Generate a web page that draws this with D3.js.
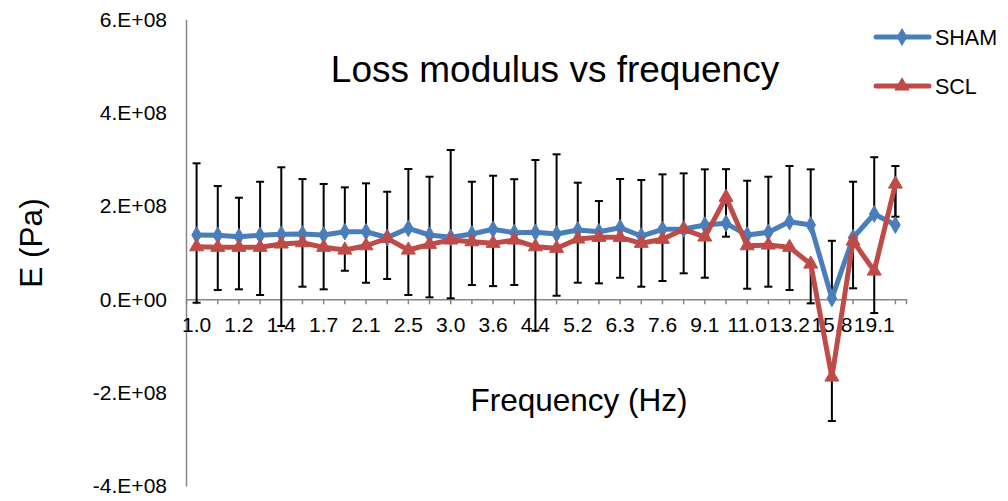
<!DOCTYPE html>
<html>
<head>
<meta charset="utf-8">
<script src="https://cdn.jsdelivr.net/npm/d3@7"></script>
<style>
  html, body { margin: 0; padding: 0; background: #ffffff; }
  svg { display: block; font-family: "Liberation Sans", Arial, sans-serif; }
</style>
</head>
<body>
<svg id="chart" width="1008" height="501"></svg>
<script>
// Frequency sweep categories (Hz); every other one is labelled on the axis
const frequencies = ["1.0","1.1","1.2","1.3","1.4","1.6","1.7","1.9","2.1","2.3",
  "2.5","2.8","3.0","3.3","3.6","4.0","4.4","4.8","5.2","5.8",
  "6.3","6.9","7.6","8.3","9.1","10.0","11.0","12.0","13.2","14.5",
  "15.8","17.4","19.1","20.9"];

// Loss modulus, SHAM group (Pa)
const shamValues = [1.378e8,1.371e8,1.341e8,1.371e8,1.393e8,1.399e8,1.378e8,1.448e8,1.448e8,1.324e8,
  1.521e8,1.378e8,1.328e8,1.399e8,1.500e8,1.427e8,1.436e8,1.399e8,1.485e8,1.448e8,
  1.534e8,1.356e8,1.500e8,1.506e8,1.592e8,1.628e8,1.378e8,1.436e8,1.663e8,1.592e8,
  0.020e8,1.320e8,1.828e8,1.592e8];
// SHAM error (shown in the plus direction)
const shamError = [1.536e8,1.056e8,0.836e8,1.148e8,1.436e8,1.178e8,1.093e8,0.951e8,1.037e8,0.981e8,
  1.271e8,1.249e8,1.871e8,1.121e8,1.148e8,1.147e8,1.549e8,1.708e8,1.014e8,0.658e8,
  1.044e8,1.200e8,1.178e8,1.193e8,1.193e8,1.161e8,1.163e8,1.191e8,1.193e8,1.193e8,
  1.234e8,1.200e8,1.217e8,1.264e8];

// Loss modulus, SCL group (Pa)
const sclValues = [1.127e8,1.114e8,1.114e8,1.114e8,1.185e8,1.213e8,1.114e8,1.056e8,1.148e8,1.307e8,
  1.056e8,1.178e8,1.271e8,1.234e8,1.200e8,1.271e8,1.127e8,1.093e8,1.292e8,1.328e8,
  1.328e8,1.200e8,1.286e8,1.500e8,1.335e8,2.186e8,1.148e8,1.163e8,1.114e8,0.756e8,
  -1.665e8,1.249e8,0.606e8,2.470e8];
// SCL error (shown in the minus direction)
const sclError = [1.200e8,0.915e8,0.900e8,1.022e8,1.757e8,0.943e8,0.900e8,0.444e8,0.793e8,0.872e8,
  0.964e8,1.136e8,1.249e8,0.928e8,0.917e8,0.964e8,1.800e8,1.016e8,0.936e8,0.986e8,
  0.866e8,0.930e8,0.893e8,0.943e8,0.872e8,0.844e8,0.921e8,0.893e8,0.914e8,0.842e8,
  0.943e8,1.013e8,0.900e8,0.700e8];

const yTicks = [-4e8,-2e8,0,2e8,4e8,6e8];
const yTickLabels = ["-4.E+08","-2.E+08","0.E+00","2.E+08","4.E+08","6.E+08"];

const seriesNames = ["SHAM","SCL"];
const colors = { SHAM: "#4A7EBB", SCL: "#BE4B48" };

const svg = d3.select("#chart");

const plot = { left: 186, right: 906, top: 19.3, bottom: 486 };

const x = d3.scaleBand()
  .domain(frequencies.map((d, i) => i))
  .range([plot.left, plot.right])
  .paddingInner(0).paddingOuter(0);
const cx = i => x(i) + x.bandwidth() / 2;

const y = d3.scaleLinear()
  .domain([-4e8, 6e8])
  .range([plot.bottom, plot.top]);

// Y axis (left)
const yAxis = d3.axisLeft(y)
  .tickValues(yTicks)
  .tickFormat((d, i) => yTickLabels[i])
  .tickSize(0)
  .tickPadding(19);
const gy = svg.append("g")
  .attr("transform", `translate(${plot.left},0)`)
  .call(yAxis);
gy.select(".domain").attr("stroke", "#868686").attr("stroke-width", 1.5);
gy.selectAll("text").attr("font-size", 21).attr("fill", "#000");

// X axis sitting on zero
const xAxis = d3.axisBottom(x)
  .tickFormat((d, i) => (i % 2 === 0 ? frequencies[i] : ""))
  .tickSize(5)
  .tickSizeOuter(5)
  .tickPadding(13);
const gx = svg.append("g")
  .attr("transform", `translate(0,${y(0)})`)
  .call(xAxis);
gx.select(".domain").attr("stroke", "#868686").attr("stroke-width", 1.5);
gx.selectAll(".tick line").attr("stroke", "#868686").attr("stroke-width", 1.5);
gx.selectAll("text").attr("font-size", 21).attr("fill", "#000");

// Error bars
const capW = 8;
const errGroup = svg.append("g").attr("stroke", "#000").attr("stroke-width", 2);
function drawBars(values, errs, sign) {
  values.forEach((v, i) => {
    const end = v + sign * errs[i];
    errGroup.append("line")
      .attr("x1", cx(i)).attr("x2", cx(i))
      .attr("y1", y(v)).attr("y2", y(end));
    errGroup.append("line")
      .attr("x1", cx(i) - capW / 2).attr("x2", cx(i) + capW / 2)
      .attr("y1", y(end)).attr("y2", y(end));
  });
}
drawBars(shamValues, shamError, +1);
drawBars(sclValues, sclError, -1);

// Lines and markers
const line = d3.line().x((d, i) => cx(i)).y(d => y(d));
const diamond = d3.symbol().type(d3.symbolDiamond).size(80);
const triangle = d3.symbol().type(d3.symbolTriangle).size(85);

function drawSeries(values, color, sym) {
  svg.append("path")
    .datum(values)
    .attr("fill", "none")
    .attr("stroke", color)
    .attr("stroke-width", 5)
    .attr("stroke-linejoin", "round")
    .attr("d", line);
  svg.append("g").selectAll("path")
    .data(values)
    .join("path")
    .attr("transform", (d, i) => `translate(${cx(i)},${y(d)})`)
    .attr("d", sym)
    .attr("fill", color)
    .attr("stroke", color)
    .attr("stroke-width", 1);
}
drawSeries(shamValues, colors.SHAM, diamond);
drawSeries(sclValues, colors.SCL, triangle);

// Title
svg.append("text")
  .attr("x", 555).attr("y", 82)
  .attr("text-anchor", "middle")
  .attr("font-size", 37)
  .attr("fill", "#000")
  .text("Loss modulus vs frequency");

// Axis titles
svg.append("text")
  .attr("x", 579).attr("y", 411)
  .attr("text-anchor", "middle")
  .attr("font-size", 31.5)
  .attr("fill", "#000")
  .text("Frequency (Hz)");

svg.append("text")
  .attr("transform", "translate(42,243) rotate(-90)")
  .attr("text-anchor", "middle")
  .attr("font-size", 31.5)
  .attr("fill", "#000")
  .text("E (Pa)");

// Legend
const legendItems = [
  { name: seriesNames[0], y: 37, sym: diamond },
  { name: seriesNames[1], y: 86, sym: triangle }
];
const lg = svg.append("g");
legendItems.forEach(item => {
  const c = colors[item.name];
  lg.append("line")
    .attr("x1", 876).attr("x2", 929)
    .attr("y1", item.y).attr("y2", item.y)
    .attr("stroke", c).attr("stroke-width", 5).attr("stroke-linecap", "round");
  lg.append("path")
    .attr("transform", `translate(902,${item.y})`)
    .attr("d", item.sym)
    .attr("fill", c).attr("stroke", c);
  lg.append("text")
    .attr("x", 935).attr("y", item.y)
    .attr("dy", "0.36em")
    .attr("font-size", 21.5)
    .attr("fill", "#000")
    .text(item.name);
});
</script>
</body>
</html>
